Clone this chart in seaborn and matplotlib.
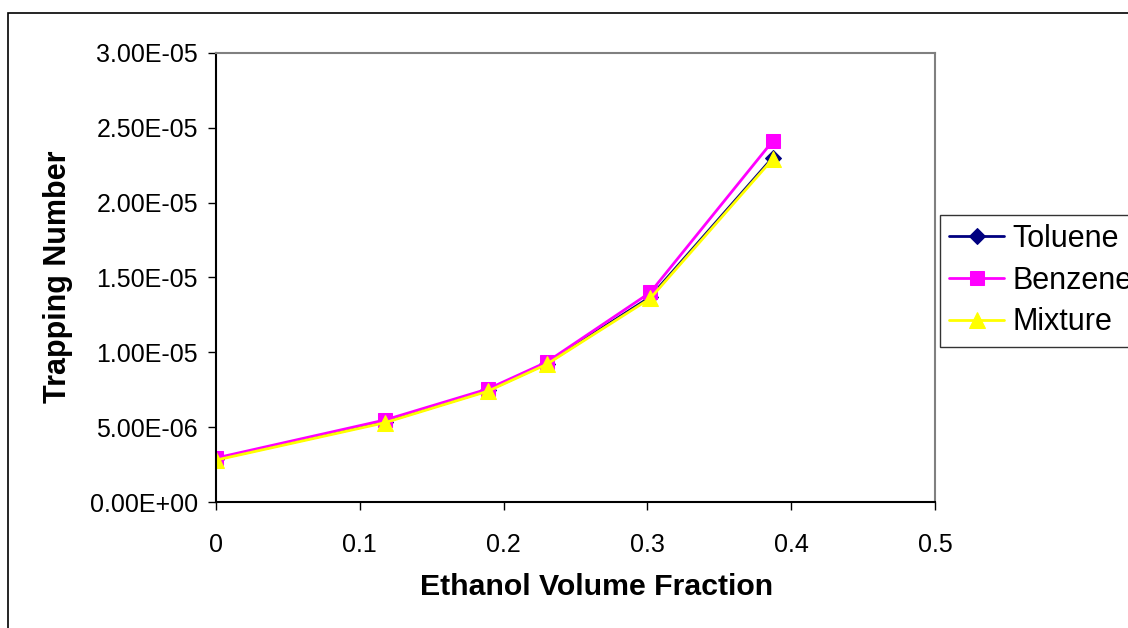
import matplotlib
matplotlib.use("Agg")
import matplotlib.pyplot as plt
import matplotlib.patches as mpatches
from matplotlib.ticker import FuncFormatter, MultipleLocator
import seaborn as sns
import pandas as pd

ethanol = [0.0, 0.1175, 0.189, 0.230, 0.302, 0.387]
toluene = [2.85e-6, 5.35e-6, 7.45e-6, 9.25e-6, 1.37e-5, 2.30e-5]
benzene = [2.94e-6, 5.48e-6, 7.55e-6, 9.35e-6, 1.40e-5, 2.41e-5]
mixture = [2.80e-6, 5.30e-6, 7.40e-6, 9.20e-6, 1.36e-5, 2.29e-5]
series_names = ["Toluene", "Benzene", "Mixture"]

df = pd.DataFrame({
    "x": ethanol * 3,
    "y": toluene + benzene + mixture,
    "series": sum([[n] * len(ethanol) for n in series_names], []),
})

sns.set_style("white")
plt.rcParams["font.family"] = ["Liberation Sans", "DejaVu Sans"]
plt.rcParams["text.color"] = "black"
plt.rcParams["axes.labelcolor"] = "black"
plt.rcParams["xtick.color"] = "black"
plt.rcParams["ytick.color"] = "black"

fig = plt.figure(figsize=(11.28, 6.28), dpi=100)
ax = fig.add_axes([216/1128, 1-502/628, (935-216)/1128, (502-53)/628])

palette = {"Toluene": "#000080", "Benzene": "#FF00FF", "Mixture": "#FFFF00"}
markers = {"Toluene": "D", "Benzene": "s", "Mixture": "^"}
sizes = {"Toluene": 8, "Benzene": 10, "Mixture": 11}
for name in series_names:
    sub = df[df["series"] == name]
    sns.lineplot(data=sub, x="x", y="y", ax=ax, color=palette[name],
                 marker=markers[name], markersize=sizes[name],
                 markeredgecolor=palette[name], linewidth=2, label=name,
                 estimator=None, sort=False)

ax.set_xlim(0, 0.5)
ax.set_ylim(0, 3e-5)
ax.xaxis.set_major_locator(MultipleLocator(0.1))
ax.yaxis.set_major_locator(MultipleLocator(5e-6))
ax.xaxis.set_major_formatter(FuncFormatter(lambda v, p: f"{v:g}"))

def sci(v, p):
    s = f"{v:.2E}"
    mant, exp = s.split("E")
    sign = exp[0]
    e = int(exp[1:])
    return f"{mant}E{sign}{e:02d}"
ax.yaxis.set_major_formatter(FuncFormatter(sci))

ax.tick_params(axis="both", which="major", direction="out", length=6, width=1,
               labelsize=18, color="black", bottom=True, left=True)
ax.tick_params(axis="x", pad=16)
ax.tick_params(axis="y", pad=7)
ax.set_xlabel("Ethanol Volume Fraction", fontsize=21.8, fontweight="bold")
ax.set_ylabel("Trapping Number", fontsize=22, fontweight="bold")
ax.xaxis.set_label_coords((597-216)/719, (502-587)/449)
ax.xaxis.label.set_va("center")
ax.yaxis.set_label_coords((58-216)/719, (502-277)/449)
ax.yaxis.label.set_ha("center")
ax.yaxis.label.set_va("center")

for side in ["left", "bottom"]:
    ax.spines[side].set_color("black")
    ax.spines[side].set_linewidth(1.5)
for side in ["top", "right"]:
    ax.spines[side].set_color("#808080")
    ax.spines[side].set_linewidth(1.5)

leg = ax.legend(loc="upper left", bbox_to_anchor=(940/1128, 1-215/628),
                bbox_transform=fig.transFigure, fontsize=22, frameon=True,
                fancybox=False, edgecolor="black", handlelength=1.8,
                handletextpad=0.28, borderpad=0.3, labelspacing=0.38,
                borderaxespad=0)
leg.get_frame().set_linewidth(1)

frame = mpatches.Rectangle((8/1128, -0.1), 1.2, (628-13)/628 + 0.1,
                           transform=fig.transFigure, fill=False,
                           edgecolor="black", linewidth=1.2, clip_on=False)
fig.patches.append(frame)

fig.savefig("out.png", dpi=100)
